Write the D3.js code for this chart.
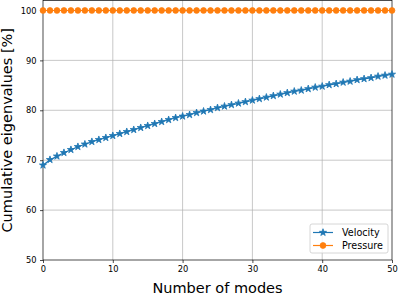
<!DOCTYPE html>
<html lang="en">
    <head>
        <meta charset="utf-8">
        <title>Cumulative eigenvalues</title>
        <script src="https://d3js.org/d3.v7.min.js"></script>
        <style type="text/css">
            body { margin: 0; background: #fff; }
            text { font-family: "DejaVu Sans", sans-serif; fill: #000; }
        </style>
    </head>
    <body>
        <script type="text/javascript">

            // data
            var modes = d3.range(0, 51);
            var velocity = [69.0, 70.1, 70.8, 71.5, 72.1, 72.7, 73.2, 73.7, 74.1, 74.5,
                            74.9, 75.3, 75.7, 76.1, 76.5, 76.9, 77.3, 77.7, 78.1, 78.5,
                            78.8, 79.1, 79.5, 79.8, 80.1, 80.5, 80.8, 81.1, 81.4, 81.7,
                            82.0, 82.3, 82.6, 82.9, 83.2, 83.5, 83.8, 84.0, 84.3, 84.6,
                            84.8, 85.1, 85.3, 85.6, 85.8, 86.1, 86.3, 86.5, 86.8, 87.0,
                            87.2];
            var pressure = modes.map(function() { return 100; });
            var xTicks = [0, 10, 20, 30, 40, 50];
            var yTicks = [50, 60, 70, 80, 90, 100];
            var seriesNames = ["Velocity", "Pressure"];
            var colors = ["#1f77b4", "#ff7f0e"];

            var margin = {top: 0.5, right: 7, bottom: 35, left: 43},
                svgWidth = 399, svgHeight = 295,
                width = svgWidth - margin.left - margin.right,
                height = svgHeight - margin.top - margin.bottom;

            var xScale = d3.scaleLinear().domain([0, 50]).range([0, width]);
            var yScale = d3.scaleLinear().domain([50, 102]).range([height, 0]);

            var svg = d3.select("body").append("svg")
                .attr("width", svgWidth)
                .attr("height", svgHeight)
                .append("g")
                .attr("transform", "translate(" + margin.left + "," + margin.top + ")");

            // grid
            svg.append("g").selectAll("line").data(xTicks.slice(1, -1)).enter().append("line")
                .attr("x1", xScale).attr("x2", xScale)
                .attr("y1", 0).attr("y2", height)
                .attr("stroke", "#b0b0b0").attr("stroke-width", 0.7);
            svg.append("g").selectAll("line").data(yTicks.slice(1)).enter().append("line")
                .attr("x1", 0).attr("x2", width)
                .attr("y1", yScale).attr("y2", yScale)
                .attr("stroke", "#b0b0b0").attr("stroke-width", 0.7);

            // axes
            var xAxis = d3.axisBottom(xScale).tickValues(xTicks).tickSize(3).tickPadding(3);
            var yAxis = d3.axisLeft(yScale).tickValues(yTicks).tickSize(3).tickPadding(3.5);

            var gx = svg.append("g")
                .attr("transform", "translate(0," + height + ")")
                .call(xAxis);
            var gy = svg.append("g").call(yAxis);
            [gx, gy].forEach(function(g) {
                g.select(".domain").remove();
                g.selectAll("line").attr("stroke", "#000").attr("stroke-width", 0.7);
                g.selectAll("text")
                    .style("font-family", "DejaVu Sans")
                    .style("font-size", "8.3px")
                    .attr("fill", "#000");
            });

            // spines
            svg.append("rect")
                .attr("x", 0).attr("y", 0)
                .attr("width", width).attr("height", height)
                .attr("fill", "none").attr("stroke", "#000").attr("stroke-width", 0.7);

            // series
            var line = d3.line()
                .x(function(d, i) { return xScale(modes[i]); })
                .y(function(d) { return yScale(d); });

            var star = d3.symbol().type(d3.symbolStar).size(16);
            var dot = d3.symbol().type(d3.symbolCircle).size(26);

            svg.append("path").datum(pressure)
                .attr("d", line).attr("fill", "none")
                .attr("stroke", colors[1]).attr("stroke-width", 1.2);
            svg.append("g").selectAll("path").data(pressure).enter().append("path")
                .attr("d", dot)
                .attr("transform", function(d, i) { return "translate(" + xScale(modes[i]) + "," + yScale(d) + ")"; })
                .attr("fill", colors[1]).attr("stroke", colors[1]).attr("stroke-width", 0.8);

            svg.append("path").datum(velocity)
                .attr("d", line).attr("fill", "none")
                .attr("stroke", colors[0]).attr("stroke-width", 1.2);
            svg.append("g").selectAll("path").data(velocity).enter().append("path")
                .attr("d", star)
                .attr("transform", function(d, i) { return "translate(" + xScale(modes[i]) + "," + yScale(d) + ")"; })
                .attr("fill", colors[0]).attr("stroke", colors[0]).attr("stroke-width", 0.8);

            // labels
            svg.append("text")
                .attr("x", width / 2).attr("y", 293 - margin.top)
                .attr("text-anchor", "middle")
                .style("font-size", "14.5px")
                .text("Number of modes");
            svg.append("text")
                .attr("transform", "translate(" + (12 - margin.left) + "," + (height / 2) + ") rotate(-90)")
                .attr("text-anchor", "middle")
                .style("font-size", "14.5px")
                .text("Cumulative eigenvalues [%]");

            // legend
            var legend = svg.append("g")
                .attr("transform", "translate(" + (310 - margin.left) + "," + (224 - margin.top) + ")");
            legend.append("rect")
                .attr("width", 78).attr("height", 29).attr("rx", 2)
                .attr("fill", "#fff").attr("fill-opacity", 0.8)
                .attr("stroke", "#cccccc").attr("stroke-width", 0.8);
            var markers = [star, dot];
            seriesNames.forEach(function(name, i) {
                var yy = 8.5 + i * 13;
                legend.append("line")
                    .attr("x1", 3).attr("x2", 23).attr("y1", yy).attr("y2", yy)
                    .attr("stroke", colors[i]).attr("stroke-width", 1.2);
                legend.append("path")
                    .attr("d", markers[i])
                    .attr("transform", "translate(13," + yy + ")")
                    .attr("fill", colors[i]).attr("stroke", colors[i]).attr("stroke-width", 0.8);
                legend.append("text")
                    .attr("x", 32).attr("y", yy + 3.4)
                    .style("font-size", "9.6px")
                    .text(name);
            });
        </script>
    </body>
</html>
